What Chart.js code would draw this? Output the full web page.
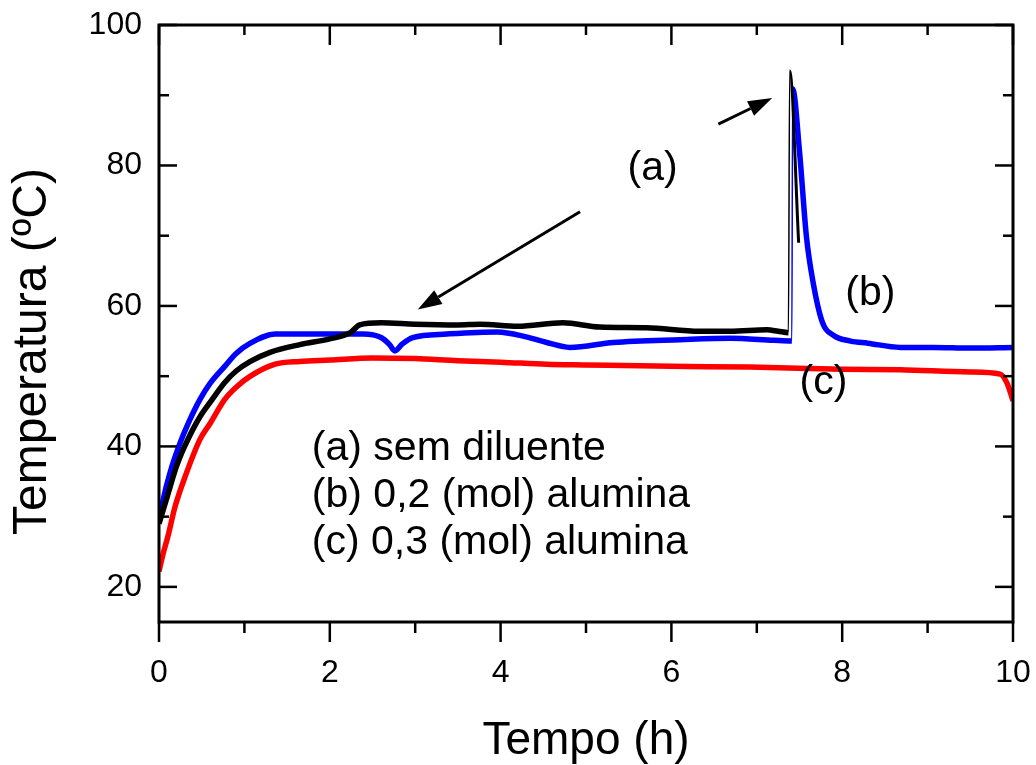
<!DOCTYPE html>
<html lang="pt">
<head>
<meta charset="UTF-8">
<title>Temperatura x Tempo</title>
<script src="https://cdn.jsdelivr.net/npm/chart.js"></script>
<style>
  body { margin: 0; background: #fff; }
</style>
</head>
<body>
<canvas id="myChart" width="1036" height="765"></canvas>
<script>
// (a) sem diluente
const tempoA = [0, 0.05, 0.1, 0.2, 0.25, 0.3, 0.4, 0.5, 0.6, 0.77, 0.9, 1.07, 1.3, 1.65, 2.0, 2.24, 2.35, 2.6, 3.0, 3.5, 3.76, 4.2, 4.73, 5.16, 5.71, 6.33, 6.69, 7.12, 7.25, 7.37, 7.385, 7.49];
const tempA  = [29, 31, 33, 37, 38.6, 40, 42.5, 44.6, 46.3, 49.1, 50.7, 52.1, 53.4, 54.5, 55.3, 56.2, 57.3, 57.6, 57.4, 57.3, 57.4, 57.1, 57.6, 57, 56.9, 56.4, 56.4, 56.6, 56.4, 56.2, 93.5, 69];
// (b) 0,2 (mol) alumina
const tempoB = [0, 0.05, 0.13, 0.25, 0.35, 0.48, 0.6, 0.77, 0.9, 1.07, 1.36, 1.7, 2.0, 2.39, 2.6, 2.7, 2.76, 2.85, 2.97, 3.37, 3.96, 4.3, 4.54, 4.81, 5.32, 6.1, 6.69, 7.2, 7.41, 7.42, 7.5, 7.58, 7.66, 7.77, 7.9, 8.1, 8.3, 8.68, 9.07, 9.5, 10];
const tempB  = [29.2, 32.5, 36.3, 40.6, 43.5, 46.7, 49, 51.4, 53.2, 54.7, 56, 56, 56, 56, 55.5, 54.5, 53.6, 54.6, 55.5, 56, 56.3, 55.6, 54.8, 54.1, 54.8, 55.2, 55.4, 55.1, 55, 90.9, 82, 70, 63.3, 57.6, 55.8, 55, 54.7, 54.1, 54.1, 54, 54.1];
// (c) 0,3 (mol) alumina
const tempoC = [0, 0.05, 0.1, 0.19, 0.3, 0.48, 0.6, 0.77, 0.9, 1.07, 1.36, 1.65, 2.0, 2.5, 3.0, 3.5, 4.0, 4.54, 5.0, 6.0, 6.92, 8.0, 8.68, 9.5, 9.85, 9.93, 10];
const tempC  = [22.2, 24.8, 27, 31.5, 35.5, 41, 43.3, 46.7, 48.4, 50, 51.7, 52.1, 52.3, 52.6, 52.5, 52.2, 52, 51.7, 51.6, 51.4, 51.3, 51, 50.9, 50.6, 50.3, 49, 46.5];

const xTicks = [0, 2, 4, 6, 8, 10];
const xMinor = [1, 3, 5, 7, 9];
const yTicks = [20, 40, 60, 80, 100];
const yMinor = [30, 50, 70, 90];

const legendLines = ['(a) sem diluente', '(b) 0,2 (mol) alumina', '(c) 0,3 (mol) alumina'];

const FONT = '"Liberation Sans", Arial, sans-serif';

// text labels and arrows, placed in data units
const labels = [
  { text: '(a)', x: 5.78, y: 78, align: 'center' },
  { text: '(b)', x: 8.33, y: 60.2, align: 'center' },
  { text: '(c)', x: 7.78, y: 47.4, align: 'center' },
  { text: legendLines[0], x: 1.79, y: 38.05, align: 'left' },
  { text: legendLines[1], x: 1.79, y: 31.4, align: 'left' },
  { text: legendLines[2], x: 1.79, y: 24.7, align: 'left' }
];
const arrows = [
  { from: [4.93, 73.4], to: [3.03, 59.5] },
  { from: [6.55, 85.9], to: [7.18, 89.6] }
];

function pts(xs, ys) {
  return xs.map((t, i) => ({ x: t, y: ys[i] }));
}

function segWidth(base, thinAfter) {
  return ctx => {
    const dx = ctx.p1.parsed.x - ctx.p0.parsed.x;
    if (dx < 0.02) return 1.5;
    if (thinAfter !== undefined && ctx.p0.parsed.x >= thinAfter) return 3;
    return base;
  };
}

const framePlugin = {
  id: 'frame',
  afterDraw(chart) {
    const { ctx, chartArea: a, scales: { x, y } } = chart;
    ctx.save();
    ctx.strokeStyle = '#000';
    ctx.fillStyle = '#000';
    ctx.lineWidth = 3;
    ctx.strokeRect(a.left, a.top, a.right - a.left, a.bottom - a.top);

    function line(x1, y1, x2, y2) {
      ctx.beginPath(); ctx.moveTo(x1, y1); ctx.lineTo(x2, y2); ctx.stroke();
    }
    ctx.lineWidth = 2.5;
    xTicks.forEach(v => {
      const px = x.getPixelForValue(v);
      line(px, a.bottom, px, a.bottom + 20);
      line(px, a.top, px, a.top + 20);
    });
    xMinor.forEach(v => {
      const px = x.getPixelForValue(v);
      line(px, a.bottom, px, a.bottom + 11);
      line(px, a.top, px, a.top + 10);
    });
    yTicks.forEach(v => {
      const py = y.getPixelForValue(v);
      line(a.left, py, a.left + 18, py);
      line(a.right, py, a.right - 18, py);
    });
    yMinor.forEach(v => {
      const py = y.getPixelForValue(v);
      line(a.left, py, a.left + 10, py);
      line(a.right, py, a.right - 10, py);
    });

    // arrows
    ctx.lineWidth = 3;
    arrows.forEach(ar => {
      const x1 = x.getPixelForValue(ar.from[0]), y1 = y.getPixelForValue(ar.from[1]);
      const x2 = x.getPixelForValue(ar.to[0]), y2 = y.getPixelForValue(ar.to[1]);
      const ang = Math.atan2(y2 - y1, x2 - x1);
      const len = 24, hw = 8;
      const bx = x2 - len * Math.cos(ang), by = y2 - len * Math.sin(ang);
      line(x1, y1, bx, by);
      ctx.beginPath();
      ctx.moveTo(x2, y2);
      ctx.lineTo(bx + hw * Math.sin(ang), by - hw * Math.cos(ang));
      ctx.lineTo(bx - hw * Math.sin(ang), by + hw * Math.cos(ang));
      ctx.closePath();
      ctx.fill();
    });

    // labels
    ctx.font = '41px ' + FONT;
    ctx.textBaseline = 'alphabetic';
    labels.forEach(l => {
      ctx.textAlign = l.align;
      ctx.fillText(l.text, x.getPixelForValue(l.x), y.getPixelForValue(l.y));
    });

    // y axis title
    ctx.save();
    ctx.translate(a.left - 126, (a.top + a.bottom) / 2 + 28);
    ctx.rotate(-Math.PI / 2);
    ctx.font = '48px ' + FONT;
    ctx.textAlign = 'center';
    ctx.textBaseline = 'middle';
    ctx.fillText('Temperatura (ºC)', 0, 0);
    ctx.restore();

    ctx.restore();
  }
};

const ctx = document.getElementById('myChart');
const myChart = new Chart(ctx, {
  type: 'line',
  data: {
    datasets: [
      {
        label: legendLines[0],
        data: pts(tempoA, tempA),
        borderColor: '#000000',
        borderWidth: 5.5,
        segment: { borderWidth: segWidth(5.5, 7.38) }
      },
      {
        label: legendLines[1],
        data: pts(tempoB, tempB),
        borderColor: '#0000ff',
        borderWidth: 5.5,
        segment: { borderWidth: segWidth(5.5) }
      },
      {
        label: legendLines[2],
        data: pts(tempoC, tempC),
        borderColor: '#ff0000',
        borderWidth: 5.5,
        segment: { borderWidth: segWidth(5.5) }
      }
    ]
  },
  options: {
    responsive: false,
    animation: false,
    elements: { point: { radius: 0 }, line: { cubicInterpolationMode: 'monotone' } },
    layout: { padding: { top: 25, right: 23, left: 0, bottom: 0 } },
    plugins: { legend: { display: false }, tooltip: { enabled: false } },
    scales: {
      x: {
        type: 'linear',
        min: 0,
        max: 10,
        afterBuildTicks: s => { s.ticks = xTicks.map(v => ({ value: v })); },
        afterFit: s => { s.height = 143; s.paddingLeft = 0; s.paddingRight = 0; },
        grid: { display: false, drawTicks: false },
        border: { display: false },
        ticks: { color: '#000', font: { family: FONT, size: 32 }, padding: 32, maxRotation: 0 },
        title: {
          display: true,
          text: 'Tempo (h)',
          color: '#000',
          font: { family: FONT, size: 46, lineHeight: 1 },
          padding: { top: 0, bottom: 1 }
        }
      },
      y: {
        type: 'linear',
        min: 15,
        max: 100,
        afterBuildTicks: s => { s.ticks = yTicks.map(v => ({ value: v })); },
        afterFit: s => { s.width = 159; s.paddingTop = 0; s.paddingBottom = 0; },
        grid: { display: false, drawTicks: false },
        border: { display: false },
        ticks: { color: '#000', font: { family: FONT, size: 32 }, padding: 17 }
      }
    }
  },
  plugins: [framePlugin]
});
</script>
</body>
</html>
